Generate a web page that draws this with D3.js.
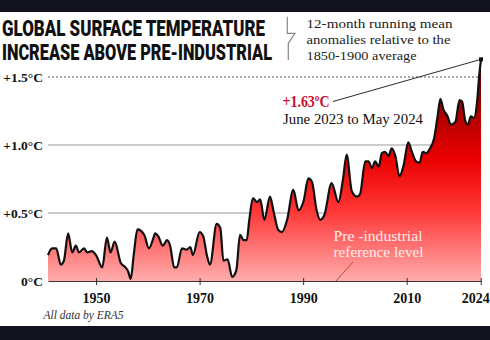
<!DOCTYPE html>
<html>
<head>
<meta charset="utf-8">
<script src="https://cdn.jsdelivr.net/npm/d3@7"></script>
<style>
  body { margin: 0; background: #fff; }
  svg { display: block; }
</style>
</head>
<body>
<div id="chart"></div>
<script>
// 12-month running mean anomaly (deg C vs 1850-1900)
var years = [1940.72, 1941.5, 1942.3, 1943.2, 1943.8, 1944.6, 1945.4, 1946.1, 1946.7, 1947.7,
    1948.3, 1949.2, 1950.0, 1951.2, 1952.1, 1952.8, 1953.6, 1954.8, 1955.7, 1956.2,
    1956.7, 1957.3, 1958.0, 1959.3, 1960.2, 1961.2, 1961.4, 1962.0, 1962.9, 1963.7,
    1964.3, 1965.1, 1965.6, 1966.6, 1967.5, 1968.2, 1968.7, 1970.0, 1970.7, 1971.4,
    1972.0, 1973.3, 1974.0, 1974.6, 1975.4, 1976.3, 1977.1, 1977.8, 1978.5, 1979.1,
    1979.6, 1980.3, 1981.1, 1981.7, 1982.5, 1983.6, 1984.3, 1985.2, 1985.9, 1986.9,
    1988.1, 1989.1, 1990.1, 1991.0, 1991.7, 1992.6, 1993.3, 1994.1, 1995.5, 1996.8,
    1997.7, 1998.4, 1999.4, 2000.4, 2001.0, 2002.0, 2002.6, 2003.3, 2003.9, 2004.6,
    2005.2, 2005.8, 2006.5, 2007.1, 2007.8, 2008.6, 2009.4, 2010.3, 2011.0, 2011.8,
    2012.5, 2013.1, 2013.8, 2014.5, 2015.3, 2016.0, 2016.5, 2017.1, 2017.9, 2018.5,
    2019.4, 2020.2, 2020.7, 2021.3, 2021.8, 2022.4, 2023.0, 2023.6, 2024.0, 2024.35];
var anomaly = [0.19, 0.24, 0.24, 0.12, 0.15, 0.35, 0.21, 0.26, 0.21, 0.24,
    0.21, 0.22, 0.19, 0.10, 0.32, 0.21, 0.29, 0.13, 0.10, 0.07,
    0.015, 0.20, 0.38, 0.34, 0.24, 0.33, 0.35, 0.33, 0.26, 0.30,
    0.26, 0.10, 0.10, 0.24, 0.23, 0.25, 0.19, 0.36, 0.33, 0.19,
    0.12, 0.42, 0.39, 0.15, 0.16, 0.03, 0.08, 0.34, 0.30, 0.30,
    0.45, 0.61, 0.58, 0.60, 0.45, 0.62, 0.51, 0.375, 0.36, 0.45,
    0.67, 0.52, 0.59, 0.755, 0.73, 0.52, 0.45, 0.485, 0.72, 0.58,
    0.75, 0.93, 0.66, 0.62, 0.64, 0.88, 0.88, 0.83, 0.88, 0.84,
    0.94, 0.95, 0.92, 0.975, 0.92, 0.77, 0.85, 1.02, 0.95, 0.88,
    0.87, 0.95, 0.94, 0.975, 1.05, 1.22, 1.34, 1.26, 1.21, 1.15,
    1.17, 1.33, 1.32, 1.18, 1.15, 1.21, 1.20, 1.32, 1.51, 1.63];

var xTicks = [1950, 1970, 1990, 2010, 2024.3];
var xTickLabels = ["1950", "1970", "1990", "2010", "2024"];
var yTicks = [0, 0.5, 1.0, 1.5];
var yTickLabels = ["0°C", "+0.5°C", "+1.0°C", "+1.5°C"];
var titleLines = ["GLOBAL SURFACE TEMPERATURE", "INCREASE ABOVE PRE-INDUSTRIAL"];
var noteLines = ["12-month running mean", "anomalies relative to the", "1850-1900 average"];

var width = 490, height = 340;
var serif = "'Liberation Serif', 'DejaVu Serif', serif";

var svg = d3.select("#chart").append("svg")
    .attr("width", width)
    .attr("height", height);

var data = years.map(function(y, i){ return {year: y, value: anomaly[i]}; });

var x = d3.scaleLinear()
    .domain([1940.72, 2024.35])
    .range([48, 481]);

var y = d3.scaleLinear()
    .domain([0, 1.5])
    .range([281, 77]);

// dark bands top and bottom
svg.append("rect").attr("x", 0).attr("y", 0).attr("width", width).attr("height", 12).attr("fill", "#13131f");
svg.append("rect").attr("x", 0).attr("y", 326).attr("width", width).attr("height", 14).attr("fill", "#13131f");

// title: smaller font stretched vertically to get a condensed look
svg.selectAll(".title")
    .data(titleLines)
    .enter().append("text")
    .attr("class", "title")
    .attr("transform", function(d, i){ return "translate(2," + (36 + i * 23.5) + ") scale(1,1.32)"; })
    .attr("textLength", function(d, i){ return i == 0 ? 263 : 270; })
    .attr("lengthAdjust", "spacingAndGlyphs")
    .style("font-family", "Roboto, 'DejaVu Sans', sans-serif")
    .style("font-weight", "900")
    .style("font-size", "17px")
    .attr("fill", "#111")
    .text(function(d){ return d; });

// bracket + note
svg.append("path")
    .attr("d", "M287.3,16.7 L287.3,33.3 L295,33.3 L288.3,43.3 L288.3,60")
    .attr("fill", "none")
    .attr("stroke", "#888")
    .attr("stroke-width", 1.2);

svg.selectAll(".note")
    .data(noteLines)
    .enter().append("text")
    .attr("class", "note")
    .attr("x", 306.5)
    .attr("y", function(d, i){ return 27.5 + i * 16; })
    .attr("textLength", function(d, i){ return [146, 144, 110][i]; })
    .attr("lengthAdjust", "spacingAndGlyphs")
    .style("font-family", serif)
    .style("font-size", "13px")
    .attr("fill", "#222")
    .text(function(d){ return d; });

// grid lines
var grid = svg.append("g");
grid.selectAll("line")
    .data(yTicks.slice(1))
    .enter().append("line")
    .attr("x1", 48)
    .attr("x2", 481)
    .attr("y1", function(d){ return y(d); })
    .attr("y2", function(d){ return y(d); })
    .attr("stroke", function(d){ return d == 1.5 ? "#555" : "#999"; })
    .attr("stroke-width", 1)
    .attr("stroke-dasharray", function(d){ return d == 1.5 ? "2,2" : null; });

// y labels
svg.selectAll(".ylab")
    .data(yTicks)
    .enter().append("text")
    .attr("class", "ylab")
    .attr("x", 43)
    .attr("y", function(d){ return y(d) + 4.5; })
    .attr("text-anchor", "end")
    .style("font-family", serif)
    .style("font-size", "13.5px")
    .style("font-weight", "bold")
    .attr("fill", "#111")
    .text(function(d, i){ return yTickLabels[i]; });

// gradient fill
var defs = svg.append("defs");
var grad = defs.append("linearGradient")
    .attr("id", "heat")
    .attr("gradientUnits", "userSpaceOnUse")
    .attr("x1", 0).attr("x2", 0)
    .attr("y1", y(1.63)).attr("y2", y(0));
grad.append("stop").attr("offset", "0%").attr("stop-color", "#4a0000");
grad.append("stop").attr("offset", "25%").attr("stop-color", "#b00000");
grad.append("stop").attr("offset", "45%").attr("stop-color", "#ec0000");
grad.append("stop").attr("offset", "68%").attr("stop-color", "#ff3535");
grad.append("stop").attr("offset", "100%").attr("stop-color", "#ffadad");

var area = d3.area()
    .x(function(d){ return x(d.year); })
    .y0(y(0))
    .y1(function(d){ return y(d.value); })
    .curve(d3.curveMonotoneX);

var line = d3.line()
    .x(function(d){ return x(d.year); })
    .y(function(d){ return y(d.value); })
    .curve(d3.curveMonotoneX);

svg.append("path")
    .datum(data)
    .attr("d", area)
    .attr("fill", "url(#heat)");

svg.append("path")
    .datum(data)
    .attr("d", line)
    .attr("fill", "none")
    .attr("stroke", "#111")
    .attr("stroke-width", 2.2)
    .attr("stroke-linejoin", "round");

// x axis
var xAxis = d3.axisBottom(x)
    .tickValues(xTicks)
    .tickFormat(function(d, i){ return xTickLabels[i]; })
    .tickSize(4)
    .tickSizeOuter(0);

var gx = svg.append("g")
    .attr("transform", "translate(0," + y(0) + ")")
    .call(xAxis);
gx.select(".domain").attr("stroke", "#333").attr("stroke-width", 1.2);
gx.selectAll(".tick line").attr("stroke", "#333").attr("y1", -3);
gx.selectAll(".tick text")
    .attr("y", 12)
    .attr("dy", "0.71em")
    .style("font-family", serif)
    .style("font-size", "14px")
    .style("font-weight", "bold")
    .attr("fill", "#111");
// last label sits flush with the right edge
gx.selectAll(".tick text").filter(function(d, i){ return i == xTicks.length - 1; })
    .attr("text-anchor", "end")
    .attr("dx", 8.5);

// last point marker and callout
var last = data[data.length - 1];
svg.append("line")
    .attr("x1", 333).attr("y1", 101.5)
    .attr("x2", x(last.year)).attr("y2", y(last.value))
    .attr("stroke", "#111").attr("stroke-width", 0.9);
svg.append("rect")
    .attr("x", x(last.year) - 2).attr("y", y(last.value) - 2)
    .attr("width", 4).attr("height", 4)
    .attr("fill", "#111");

svg.append("text")
    .attr("x", 282.5)
    .attr("y", 106.5)
    .attr("textLength", 47)
    .attr("lengthAdjust", "spacingAndGlyphs")
    .style("font-family", serif)
    .style("font-size", "16px")
    .style("font-weight", "bold")
    .attr("fill", "#c8102e")
    .text("+" + d3.format(".2f")(last.value) + "ºC");

svg.append("text")
    .attr("x", 283)
    .attr("y", 124)
    .attr("textLength", 140)
    .attr("lengthAdjust", "spacingAndGlyphs")
    .style("font-family", serif)
    .style("font-size", "14.5px")
    .attr("fill", "#111")
    .text("June 2023 to May 2024");

// pre-industrial label
svg.append("text")
    .attr("x", 333.5).attr("y", 240.5)
    .attr("textLength", 89)
    .attr("lengthAdjust", "spacingAndGlyphs")
    .style("font-family", serif).style("font-size", "14px")
    .attr("fill", "#ffecec")
    .text("Pre -industrial");
svg.append("text")
    .attr("x", 333.5).attr("y", 256.5)
    .attr("textLength", 90)
    .attr("lengthAdjust", "spacingAndGlyphs")
    .style("font-family", serif).style("font-size", "14px")
    .attr("fill", "#ffecec")
    .text("reference level");
svg.append("line")
    .attr("x1", 353).attr("y1", 262)
    .attr("x2", 336).attr("y2", y(0))
    .attr("stroke", "#a33").attr("stroke-width", 0.8);

// source
svg.append("text")
    .attr("x", 43.5).attr("y", 318.5)
    .attr("textLength", 80)
    .attr("lengthAdjust", "spacingAndGlyphs")
    .style("font-family", serif)
    .style("font-style", "italic")
    .style("font-size", "13px")
    .attr("fill", "#333")
    .text("All data by ERA5");
</script>
</body>
</html>
